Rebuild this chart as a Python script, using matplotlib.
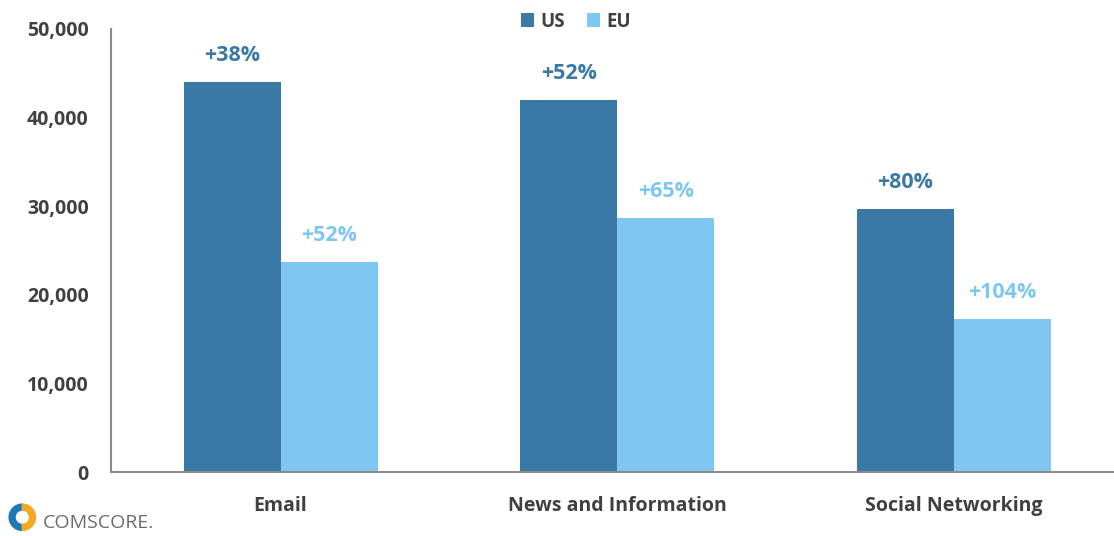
import matplotlib
matplotlib.use('Agg')
import matplotlib.pyplot as plt
from matplotlib.patches import Wedge
import numpy as np

categories = ['Email', 'News and Information', 'Social Networking']
us_values = [44000, 42000, 29700]
eu_values = [23700, 28700, 17300]
us_growth = ['+38%', '+52%', '+80%']
eu_growth = ['+52%', '+65%', '+104%']
yticks = [0, 10000, 20000, 30000, 40000, 50000]

us_color = '#3a78a5'
eu_color = '#7fc6f0'
text_color = '#404040'

plt.rcParams['font.family'] = ['Open Sans', 'DejaVu Sans']
plt.rcParams['font.weight'] = 'bold'

fig = plt.figure(figsize=(11.14, 5.36), dpi=100)
ax = fig.add_axes([0.0996, 0.1194, 0.9, 0.8265])

x = np.arange(len(categories))
w = 0.288
bars_us = ax.bar(x - w / 2, us_values, w, color=us_color, label='US')
bars_eu = ax.bar(x + w / 2, eu_values, w, color=eu_color, label='EU')

for b, t in zip(bars_us, us_growth):
    ax.annotate(t, (b.get_x() + b.get_width() / 2, b.get_height()),
                xytext=(0, 19), textcoords='offset points', ha='center', va='center',
                color=us_color, fontsize=15.5, fontweight='bold')
for b, t in zip(bars_eu, eu_growth):
    ax.annotate(t, (b.get_x() + b.get_width() / 2, b.get_height()),
                xytext=(0, 19), textcoords='offset points', ha='center', va='center',
                color=eu_color, fontsize=15.5, fontweight='bold')

ax.set_xlim(-0.504, 2.475)
ax.set_ylim(0, 50000)
ax.set_yticks(yticks)
ax.set_yticklabels(['{:,}'.format(v) for v in yticks])
ax.set_xticks(x)
ax.set_xticklabels(categories)
ax.tick_params(length=0, labelsize=14, colors=text_color)
ax.tick_params(axis='y', pad=16)
ax.tick_params(axis='x', pad=17)
for s in ['top', 'right']:
    ax.spines[s].set_visible(False)
for s in ['left', 'bottom']:
    ax.spines[s].set_color('#8c8c8c')
    ax.spines[s].set_linewidth(1.5)

fig.legend(loc='upper center', bbox_to_anchor=(0.517, 1.01), ncol=2, frameon=False,
           handlelength=0.7, handleheight=0.7, handletextpad=0.3, columnspacing=1.2,
           prop={'size': 13.5, 'weight': 'bold'}, labelcolor=text_color)

# comScore logo
lax = fig.add_axes([0.007, 0.008, 0.026, 0.054])
lax.set_aspect('equal')
lax.add_patch(Wedge((0, 0), 1, 90, 270, width=0.45, color='#1f78b4'))
lax.add_patch(Wedge((0, 0), 1, -90, 90, width=0.45, color='#f5a623'))
lax.set_xlim(-1.1, 1.1)
lax.set_ylim(-1.1, 1.1)
lax.axis('off')
fig.text(0.038, 0.024, 'COMSCORE.', fontsize=14, fontweight='normal', color='#6b6b6b', va='center')

fig.savefig('out.png', dpi=100)
